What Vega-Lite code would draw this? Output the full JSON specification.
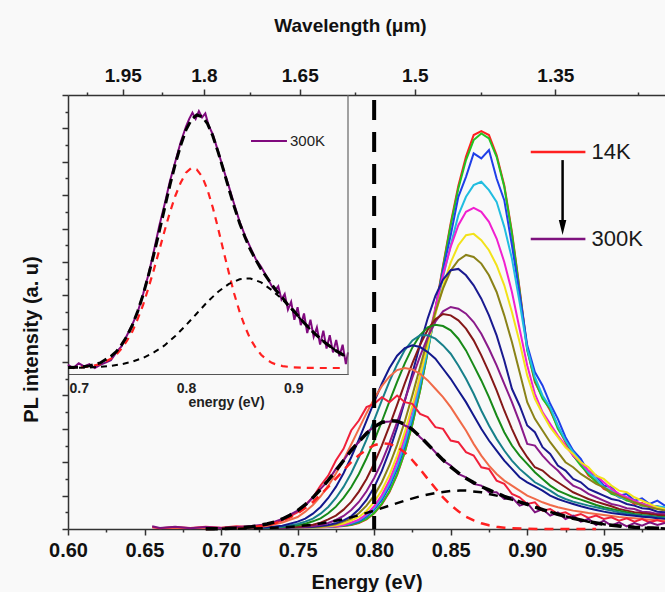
{
"$schema": "https://vega.github.io/schema/vega-lite/v6.json",
"width": 597, "height": 434,
"autosize": {"type": "none"},
"padding": {"left": 68, "top": 95, "right": 0, "bottom": 63},
"background": "#f9f9f9",
"config": {"view": {"stroke": null}, "axis": {"grid": false, "domainColor": "#333", "tickColor": "#333", "labelColor": "#111", "titleColor": "#111", "labelFont": "Liberation Sans", "titleFont": "Liberation Sans"}, "text": {"font": "Liberation Sans"}},
"datasets": {
"curves": [
{"c":"01","e":0.70,"v":0.02},{"c":"01","e":0.72,"v":0.03},{"c":"01","e":0.73,"v":0.03},{"c":"01","e":0.74,"v":0.03},{"c":"01","e":0.75,"v":0.04},{"c":"01","e":0.755,"v":0.04},{"c":"01","e":0.76,"v":0.05},{"c":"01","e":0.765,"v":0.05},{"c":"01","e":0.77,"v":0.06},{"c":"01","e":0.775,"v":0.07},{"c":"01","e":0.78,"v":0.09},{"c":"01","e":0.785,"v":0.12},{"c":"01","e":0.79,"v":0.18},{"c":"01","e":0.795,"v":0.29},{"c":"01","e":0.80,"v":0.47},{"c":"01","e":0.805,"v":0.74},{"c":"01","e":0.81,"v":1.11},{"c":"01","e":0.815,"v":1.62},{"c":"01","e":0.82,"v":2.29},{"c":"01","e":0.825,"v":3.14},{"c":"01","e":0.83,"v":4.15},{"c":"01","e":0.835,"v":5.32},{"c":"01","e":0.84,"v":6.59},{"c":"01","e":0.845,"v":7.89},{"c":"01","e":0.85,"v":9.16},{"c":"01","e":0.855,"v":10.28},{"c":"01","e":0.86,"v":11.16},{"c":"01","e":0.865,"v":11.8},{"c":"01","e":0.87,"v":11.92},{"c":"01","e":0.875,"v":11.8},{"c":"01","e":0.88,"v":11.2},{"c":"01","e":0.885,"v":10.3},{"c":"01","e":0.89,"v":8.9},{"c":"01","e":0.895,"v":7.2},{"c":"01","e":0.90,"v":5.4},{"c":"01","e":0.905,"v":4.4},{"c":"01","e":0.91,"v":3.95},{"c":"01","e":0.915,"v":3.55},{"c":"01","e":0.92,"v":3.05},{"c":"01","e":0.925,"v":2.6},{"c":"01","e":0.93,"v":2.2},{"c":"01","e":0.935,"v":1.95},{"c":"01","e":0.94,"v":1.6},{"c":"01","e":0.945,"v":1.45},{"c":"01","e":0.95,"v":1.2},{"c":"01","e":0.955,"v":1.1},{"c":"01","e":0.96,"v":0.95},{"c":"01","e":0.965,"v":0.9},{"c":"01","e":0.97,"v":0.75},{"c":"01","e":0.975,"v":0.78},{"c":"01","e":0.98,"v":0.66},{"c":"01","e":0.985,"v":0.68},{"c":"01","e":0.99,"v":0.6},
{"c":"02","e":0.70,"v":0.02},{"c":"02","e":0.72,"v":0.03},{"c":"02","e":0.73,"v":0.03},{"c":"02","e":0.74,"v":0.04},{"c":"02","e":0.75,"v":0.04},{"c":"02","e":0.755,"v":0.05},{"c":"02","e":0.76,"v":0.05},{"c":"02","e":0.765,"v":0.06},{"c":"02","e":0.77,"v":0.07},{"c":"02","e":0.775,"v":0.08},{"c":"02","e":0.78,"v":0.10},{"c":"02","e":0.785,"v":0.13},{"c":"02","e":0.79,"v":0.19},{"c":"02","e":0.795,"v":0.30},{"c":"02","e":0.80,"v":0.48},{"c":"02","e":0.805,"v":0.76},{"c":"02","e":0.81,"v":1.13},{"c":"02","e":0.815,"v":1.64},{"c":"02","e":0.82,"v":2.31},{"c":"02","e":0.825,"v":3.15},{"c":"02","e":0.83,"v":4.15},{"c":"02","e":0.835,"v":5.3},{"c":"02","e":0.84,"v":6.55},{"c":"02","e":0.845,"v":7.85},{"c":"02","e":0.85,"v":9.1},{"c":"02","e":0.855,"v":10.2},{"c":"02","e":0.86,"v":11.05},{"c":"02","e":0.865,"v":11.65},{"c":"02","e":0.87,"v":11.85},{"c":"02","e":0.875,"v":11.7},{"c":"02","e":0.88,"v":11.15},{"c":"02","e":0.885,"v":10.25},{"c":"02","e":0.89,"v":8.85},{"c":"02","e":0.895,"v":7.15},{"c":"02","e":0.90,"v":5.35},{"c":"02","e":0.905,"v":4.45},{"c":"02","e":0.91,"v":3.9},{"c":"02","e":0.915,"v":3.6},{"c":"02","e":0.92,"v":3.0},{"c":"02","e":0.925,"v":2.65},{"c":"02","e":0.93,"v":2.2},{"c":"02","e":0.935,"v":1.9},{"c":"02","e":0.94,"v":1.65},{"c":"02","e":0.945,"v":1.4},{"c":"02","e":0.95,"v":1.25},{"c":"02","e":0.955,"v":1.05},{"c":"02","e":0.96,"v":0.98},{"c":"02","e":0.965,"v":0.85},{"c":"02","e":0.97,"v":0.8},{"c":"02","e":0.975,"v":0.7},{"c":"02","e":0.98,"v":0.7},{"c":"02","e":0.985,"v":0.62},{"c":"02","e":0.99,"v":0.63},
{"c":"03","e":0.70,"v":0.03},{"c":"03","e":0.72,"v":0.03},{"c":"03","e":0.73,"v":0.04},{"c":"03","e":0.74,"v":0.04},{"c":"03","e":0.75,"v":0.05},{"c":"03","e":0.755,"v":0.05},{"c":"03","e":0.76,"v":0.06},{"c":"03","e":0.765,"v":0.06},{"c":"03","e":0.77,"v":0.07},{"c":"03","e":0.775,"v":0.09},{"c":"03","e":0.78,"v":0.11},{"c":"03","e":0.785,"v":0.16},{"c":"03","e":0.79,"v":0.23},{"c":"03","e":0.795,"v":0.37},{"c":"03","e":0.80,"v":0.58},{"c":"03","e":0.805,"v":0.87},{"c":"03","e":0.81,"v":1.27},{"c":"03","e":0.815,"v":1.8},{"c":"03","e":0.82,"v":2.48},{"c":"03","e":0.825,"v":3.31},{"c":"03","e":0.83,"v":4.29},{"c":"03","e":0.835,"v":5.39},{"c":"03","e":0.84,"v":6.57},{"c":"03","e":0.845,"v":7.76},{"c":"03","e":0.85,"v":8.8},{"c":"03","e":0.855,"v":9.95},{"c":"03","e":0.86,"v":10.55},{"c":"03","e":0.865,"v":11.25},{"c":"03","e":0.87,"v":11.1},{"c":"03","e":0.875,"v":11.35},{"c":"03","e":0.88,"v":10.5},{"c":"03","e":0.885,"v":9.85},{"c":"03","e":0.89,"v":8.5},{"c":"03","e":0.895,"v":7.05},{"c":"03","e":0.90,"v":5.5},{"c":"03","e":0.905,"v":4.7},{"c":"03","e":0.91,"v":4.3},{"c":"03","e":0.915,"v":3.75},{"c":"03","e":0.92,"v":3.3},{"c":"03","e":0.925,"v":2.75},{"c":"03","e":0.93,"v":2.35},{"c":"03","e":0.935,"v":2.1},{"c":"03","e":0.94,"v":1.7},{"c":"03","e":0.945,"v":1.6},{"c":"03","e":0.95,"v":1.3},{"c":"03","e":0.955,"v":1.25},{"c":"03","e":0.96,"v":1.0},{"c":"03","e":0.965,"v":1.05},{"c":"03","e":0.97,"v":0.85},{"c":"03","e":0.975,"v":0.92},{"c":"03","e":0.98,"v":0.75},{"c":"03","e":0.985,"v":0.85},{"c":"03","e":0.99,"v":0.7},
{"c":"04","e":0.70,"v":0.02},{"c":"04","e":0.72,"v":0.03},{"c":"04","e":0.73,"v":0.04},{"c":"04","e":0.74,"v":0.04},{"c":"04","e":0.75,"v":0.05},{"c":"04","e":0.755,"v":0.05},{"c":"04","e":0.76,"v":0.05},{"c":"04","e":0.765,"v":0.06},{"c":"04","e":0.77,"v":0.07},{"c":"04","e":0.775,"v":0.09},{"c":"04","e":0.78,"v":0.12},{"c":"04","e":0.785,"v":0.18},{"c":"04","e":0.79,"v":0.26},{"c":"04","e":0.795,"v":0.41},{"c":"04","e":0.80,"v":0.63},{"c":"04","e":0.805,"v":0.94},{"c":"04","e":0.81,"v":1.36},{"c":"04","e":0.815,"v":1.9},{"c":"04","e":0.82,"v":2.58},{"c":"04","e":0.825,"v":3.39},{"c":"04","e":0.83,"v":4.34},{"c":"04","e":0.835,"v":5.38},{"c":"04","e":0.84,"v":6.47},{"c":"04","e":0.845,"v":7.55},{"c":"04","e":0.85,"v":8.5},{"c":"04","e":0.855,"v":9.4},{"c":"04","e":0.86,"v":9.95},{"c":"04","e":0.865,"v":10.3},{"c":"04","e":0.87,"v":10.4},{"c":"04","e":0.875,"v":10.15},{"c":"04","e":0.88,"v":9.8},{"c":"04","e":0.885,"v":9.05},{"c":"04","e":0.89,"v":8.1},{"c":"04","e":0.895,"v":6.8},{"c":"04","e":0.90,"v":5.4},{"c":"04","e":0.905,"v":4.55},{"c":"04","e":0.91,"v":4.0},{"c":"04","e":0.915,"v":3.65},{"c":"04","e":0.92,"v":3.1},{"c":"04","e":0.925,"v":2.65},{"c":"04","e":0.93,"v":2.3},{"c":"04","e":0.935,"v":2.0},{"c":"04","e":0.94,"v":1.7},{"c":"04","e":0.945,"v":1.5},{"c":"04","e":0.95,"v":1.25},{"c":"04","e":0.955,"v":1.15},{"c":"04","e":0.96,"v":0.95},{"c":"04","e":0.965,"v":0.9},{"c":"04","e":0.97,"v":0.8},{"c":"04","e":0.975,"v":0.75},{"c":"04","e":0.98,"v":0.7},{"c":"04","e":0.985,"v":0.68},{"c":"04","e":0.99,"v":0.65},
{"c":"05","e":0.70,"v":0.02},{"c":"05","e":0.72,"v":0.03},{"c":"05","e":0.73,"v":0.04},{"c":"05","e":0.74,"v":0.04},{"c":"05","e":0.75,"v":0.05},{"c":"05","e":0.755,"v":0.05},{"c":"05","e":0.76,"v":0.06},{"c":"05","e":0.765,"v":0.06},{"c":"05","e":0.77,"v":0.07},{"c":"05","e":0.775,"v":0.09},{"c":"05","e":0.78,"v":0.12},{"c":"05","e":0.785,"v":0.19},{"c":"05","e":0.79,"v":0.28},{"c":"05","e":0.795,"v":0.44},{"c":"05","e":0.80,"v":0.68},{"c":"05","e":0.805,"v":1.01},{"c":"05","e":0.81,"v":1.46},{"c":"05","e":0.815,"v":2.04},{"c":"05","e":0.82,"v":2.75},{"c":"05","e":0.825,"v":3.6},{"c":"05","e":0.83,"v":4.56},{"c":"05","e":0.835,"v":5.59},{"c":"05","e":0.84,"v":6.63},{"c":"05","e":0.845,"v":7.62},{"c":"05","e":0.85,"v":8.45},{"c":"05","e":0.855,"v":9.1},{"c":"05","e":0.86,"v":9.5},{"c":"05","e":0.865,"v":9.62},{"c":"05","e":0.87,"v":9.5},{"c":"05","e":0.875,"v":9.2},{"c":"05","e":0.88,"v":8.7},{"c":"05","e":0.885,"v":8.0},{"c":"05","e":0.89,"v":7.1},{"c":"05","e":0.895,"v":6.0},{"c":"05","e":0.90,"v":4.9},{"c":"05","e":0.905,"v":4.05},{"c":"05","e":0.91,"v":3.5},{"c":"05","e":0.915,"v":3.15},{"c":"05","e":0.92,"v":2.8},{"c":"05","e":0.925,"v":2.5},{"c":"05","e":0.93,"v":2.2},{"c":"05","e":0.935,"v":2.0},{"c":"05","e":0.94,"v":1.75},{"c":"05","e":0.945,"v":1.6},{"c":"05","e":0.95,"v":1.4},{"c":"05","e":0.955,"v":1.2},{"c":"05","e":0.96,"v":1.05},{"c":"05","e":0.965,"v":0.95},{"c":"05","e":0.97,"v":0.85},{"c":"05","e":0.975,"v":0.75},{"c":"05","e":0.98,"v":0.7},{"c":"05","e":0.985,"v":0.62},{"c":"05","e":0.99,"v":0.6},
{"c":"06","e":0.70,"v":0.02},{"c":"06","e":0.72,"v":0.03},{"c":"06","e":0.73,"v":0.04},{"c":"06","e":0.74,"v":0.04},{"c":"06","e":0.75,"v":0.05},{"c":"06","e":0.755,"v":0.05},{"c":"06","e":0.76,"v":0.05},{"c":"06","e":0.765,"v":0.06},{"c":"06","e":0.77,"v":0.08},{"c":"06","e":0.775,"v":0.11},{"c":"06","e":0.78,"v":0.16},{"c":"06","e":0.785,"v":0.25},{"c":"06","e":0.79,"v":0.36},{"c":"06","e":0.795,"v":0.54},{"c":"06","e":0.80,"v":0.81},{"c":"06","e":0.805,"v":1.16},{"c":"06","e":0.81,"v":1.62},{"c":"06","e":0.815,"v":2.2},{"c":"06","e":0.82,"v":2.9},{"c":"06","e":0.825,"v":3.7},{"c":"06","e":0.83,"v":4.58},{"c":"06","e":0.835,"v":5.51},{"c":"06","e":0.84,"v":6.43},{"c":"06","e":0.845,"v":7.27},{"c":"06","e":0.85,"v":7.98},{"c":"06","e":0.855,"v":8.5},{"c":"06","e":0.86,"v":8.8},{"c":"06","e":0.865,"v":8.84},{"c":"06","e":0.87,"v":8.65},{"c":"06","e":0.875,"v":8.35},{"c":"06","e":0.88,"v":7.9},{"c":"06","e":0.885,"v":7.3},{"c":"06","e":0.89,"v":6.5},{"c":"06","e":0.895,"v":5.6},{"c":"06","e":0.90,"v":4.6},{"c":"06","e":0.905,"v":3.9},{"c":"06","e":0.91,"v":3.45},{"c":"06","e":0.915,"v":3.05},{"c":"06","e":0.92,"v":2.75},{"c":"06","e":0.925,"v":2.45},{"c":"06","e":0.93,"v":2.25},{"c":"06","e":0.935,"v":2.0},{"c":"06","e":0.94,"v":1.85},{"c":"06","e":0.945,"v":1.6},{"c":"06","e":0.95,"v":1.5},{"c":"06","e":0.955,"v":1.3},{"c":"06","e":0.96,"v":1.15},{"c":"06","e":0.965,"v":1.1},{"c":"06","e":0.97,"v":0.95},{"c":"06","e":0.975,"v":0.85},{"c":"06","e":0.98,"v":0.75},{"c":"06","e":0.985,"v":0.65},{"c":"06","e":0.99,"v":0.6},
{"c":"07","e":0.70,"v":0.02},{"c":"07","e":0.72,"v":0.03},{"c":"07","e":0.73,"v":0.04},{"c":"07","e":0.74,"v":0.04},{"c":"07","e":0.75,"v":0.05},{"c":"07","e":0.755,"v":0.06},{"c":"07","e":0.76,"v":0.06},{"c":"07","e":0.765,"v":0.07},{"c":"07","e":0.77,"v":0.1},{"c":"07","e":0.775,"v":0.14},{"c":"07","e":0.78,"v":0.22},{"c":"07","e":0.785,"v":0.31},{"c":"07","e":0.79,"v":0.47},{"c":"07","e":0.795,"v":0.7},{"c":"07","e":0.80,"v":1.0},{"c":"07","e":0.805,"v":1.4},{"c":"07","e":0.81,"v":1.91},{"c":"07","e":0.815,"v":2.52},{"c":"07","e":0.82,"v":3.22},{"c":"07","e":0.825,"v":4.01},{"c":"07","e":0.83,"v":4.85},{"c":"07","e":0.835,"v":5.7},{"c":"07","e":0.84,"v":6.5},{"c":"07","e":0.845,"v":7.2},{"c":"07","e":0.85,"v":7.74},{"c":"07","e":0.855,"v":8.05},{"c":"07","e":0.86,"v":8.21},{"c":"07","e":0.865,"v":8.15},{"c":"07","e":0.87,"v":7.95},{"c":"07","e":0.875,"v":7.6},{"c":"07","e":0.88,"v":7.1},{"c":"07","e":0.885,"v":6.4},{"c":"07","e":0.89,"v":5.6},{"c":"07","e":0.895,"v":4.7},{"c":"07","e":0.90,"v":3.8},{"c":"07","e":0.905,"v":3.3},{"c":"07","e":0.91,"v":2.95},{"c":"07","e":0.915,"v":2.6},{"c":"07","e":0.92,"v":2.3},{"c":"07","e":0.925,"v":2.0},{"c":"07","e":0.93,"v":1.85},{"c":"07","e":0.935,"v":1.65},{"c":"07","e":0.94,"v":1.5},{"c":"07","e":0.945,"v":1.35},{"c":"07","e":0.95,"v":1.25},{"c":"07","e":0.955,"v":1.1},{"c":"07","e":0.96,"v":1.0},{"c":"07","e":0.965,"v":0.9},{"c":"07","e":0.97,"v":0.8},{"c":"07","e":0.975,"v":0.72},{"c":"07","e":0.98,"v":0.65},{"c":"07","e":0.985,"v":0.6},{"c":"07","e":0.99,"v":0.55},
{"c":"08","e":0.70,"v":0.02},{"c":"08","e":0.72,"v":0.03},{"c":"08","e":0.73,"v":0.04},{"c":"08","e":0.74,"v":0.04},{"c":"08","e":0.75,"v":0.05},{"c":"08","e":0.755,"v":0.06},{"c":"08","e":0.76,"v":0.07},{"c":"08","e":0.765,"v":0.09},{"c":"08","e":0.77,"v":0.12},{"c":"08","e":0.775,"v":0.17},{"c":"08","e":0.78,"v":0.26},{"c":"08","e":0.785,"v":0.38},{"c":"08","e":0.79,"v":0.59},{"c":"08","e":0.795,"v":0.87},{"c":"08","e":0.80,"v":1.25},{"c":"08","e":0.805,"v":1.74},{"c":"08","e":0.81,"v":2.34},{"c":"08","e":0.815,"v":3.04},{"c":"08","e":0.82,"v":3.83},{"c":"08","e":0.825,"v":4.67},{"c":"08","e":0.83,"v":5.52},{"c":"08","e":0.835,"v":6.31},{"c":"08","e":0.84,"v":6.98},{"c":"08","e":0.845,"v":7.47},{"c":"08","e":0.85,"v":7.75},{"c":"08","e":0.855,"v":7.79},{"c":"08","e":0.86,"v":7.6},{"c":"08","e":0.865,"v":7.3},{"c":"08","e":0.87,"v":6.9},{"c":"08","e":0.875,"v":6.4},{"c":"08","e":0.88,"v":5.8},{"c":"08","e":0.885,"v":5.05},{"c":"08","e":0.89,"v":4.2},{"c":"08","e":0.895,"v":3.7},{"c":"08","e":0.90,"v":3.1},{"c":"08","e":0.905,"v":2.9},{"c":"08","e":0.91,"v":2.45},{"c":"08","e":0.915,"v":2.25},{"c":"08","e":0.92,"v":1.9},{"c":"08","e":0.925,"v":1.75},{"c":"08","e":0.93,"v":1.5},{"c":"08","e":0.935,"v":1.4},{"c":"08","e":0.94,"v":1.2},{"c":"08","e":0.945,"v":1.1},{"c":"08","e":0.95,"v":1.0},{"c":"08","e":0.955,"v":0.9},{"c":"08","e":0.96,"v":0.85},{"c":"08","e":0.965,"v":0.75},{"c":"08","e":0.97,"v":0.7},{"c":"08","e":0.975,"v":0.62},{"c":"08","e":0.98,"v":0.6},{"c":"08","e":0.985,"v":0.52},{"c":"08","e":0.99,"v":0.5},
{"c":"09","e":0.70,"v":0.02},{"c":"09","e":0.72,"v":0.03},{"c":"09","e":0.73,"v":0.04},{"c":"09","e":0.74,"v":0.04},{"c":"09","e":0.75,"v":0.06},{"c":"09","e":0.755,"v":0.07},{"c":"09","e":0.76,"v":0.09},{"c":"09","e":0.765,"v":0.12},{"c":"09","e":0.77,"v":0.18},{"c":"09","e":0.775,"v":0.27},{"c":"09","e":0.78,"v":0.39},{"c":"09","e":0.785,"v":0.57},{"c":"09","e":0.79,"v":0.81},{"c":"09","e":0.795,"v":1.13},{"c":"09","e":0.80,"v":1.53},{"c":"09","e":0.805,"v":2.01},{"c":"09","e":0.81,"v":2.57},{"c":"09","e":0.815,"v":3.2},{"c":"09","e":0.82,"v":3.86},{"c":"09","e":0.825,"v":4.54},{"c":"09","e":0.83,"v":5.18},{"c":"09","e":0.835,"v":5.75},{"c":"09","e":0.84,"v":6.21},{"c":"09","e":0.845,"v":6.52},{"c":"09","e":0.85,"v":6.65},{"c":"09","e":0.855,"v":6.6},{"c":"09","e":0.86,"v":6.45},{"c":"09","e":0.865,"v":6.2},{"c":"09","e":0.87,"v":5.85},{"c":"09","e":0.875,"v":5.4},{"c":"09","e":0.88,"v":4.9},{"c":"09","e":0.885,"v":4.35},{"c":"09","e":0.89,"v":3.8},{"c":"09","e":0.895,"v":3.2},{"c":"09","e":0.90,"v":2.55},{"c":"09","e":0.905,"v":2.5},{"c":"09","e":0.91,"v":2.2},{"c":"09","e":0.915,"v":1.95},{"c":"09","e":0.92,"v":1.75},{"c":"09","e":0.925,"v":1.5},{"c":"09","e":0.93,"v":1.3},{"c":"09","e":0.935,"v":1.2},{"c":"09","e":0.94,"v":1.05},{"c":"09","e":0.945,"v":0.95},{"c":"09","e":0.95,"v":0.85},{"c":"09","e":0.955,"v":0.75},{"c":"09","e":0.96,"v":0.7},{"c":"09","e":0.965,"v":0.62},{"c":"09","e":0.97,"v":0.6},{"c":"09","e":0.975,"v":0.52},{"c":"09","e":0.98,"v":0.5},{"c":"09","e":0.985,"v":0.45},{"c":"09","e":0.99,"v":0.45},
{"c":"10","e":0.70,"v":0.02},{"c":"10","e":0.72,"v":0.03},{"c":"10","e":0.73,"v":0.04},{"c":"10","e":0.74,"v":0.05},{"c":"10","e":0.75,"v":0.07},{"c":"10","e":0.755,"v":0.09},{"c":"10","e":0.76,"v":0.13},{"c":"10","e":0.765,"v":0.19},{"c":"10","e":0.77,"v":0.29},{"c":"10","e":0.775,"v":0.4},{"c":"10","e":0.78,"v":0.58},{"c":"10","e":0.785,"v":0.81},{"c":"10","e":0.79,"v":1.12},{"c":"10","e":0.795,"v":1.5},{"c":"10","e":0.80,"v":1.96},{"c":"10","e":0.805,"v":2.5},{"c":"10","e":0.81,"v":3.09},{"c":"10","e":0.815,"v":3.72},{"c":"10","e":0.82,"v":4.36},{"c":"10","e":0.825,"v":4.97},{"c":"10","e":0.83,"v":5.52},{"c":"10","e":0.835,"v":5.97},{"c":"10","e":0.84,"v":6.28},{"c":"10","e":0.845,"v":6.44},{"c":"10","e":0.85,"v":6.4},{"c":"10","e":0.855,"v":6.25},{"c":"10","e":0.86,"v":6.0},{"c":"10","e":0.865,"v":5.65},{"c":"10","e":0.87,"v":5.2},{"c":"10","e":0.875,"v":4.7},{"c":"10","e":0.88,"v":4.15},{"c":"10","e":0.885,"v":3.55},{"c":"10","e":0.89,"v":3.0},{"c":"10","e":0.895,"v":2.5},{"c":"10","e":0.90,"v":2.15},{"c":"10","e":0.905,"v":1.85},{"c":"10","e":0.91,"v":1.75},{"c":"10","e":0.915,"v":1.55},{"c":"10","e":0.92,"v":1.4},{"c":"10","e":0.925,"v":1.25},{"c":"10","e":0.93,"v":1.1},{"c":"10","e":0.935,"v":1.0},{"c":"10","e":0.94,"v":0.9},{"c":"10","e":0.945,"v":0.82},{"c":"10","e":0.95,"v":0.75},{"c":"10","e":0.955,"v":0.68},{"c":"10","e":0.96,"v":0.6},{"c":"10","e":0.965,"v":0.55},{"c":"10","e":0.97,"v":0.5},{"c":"10","e":0.975,"v":0.48},{"c":"10","e":0.98,"v":0.45},{"c":"10","e":0.985,"v":0.42},{"c":"10","e":0.99,"v":0.4},
{"c":"11","e":0.70,"v":0.02},{"c":"11","e":0.72,"v":0.03},{"c":"11","e":0.73,"v":0.04},{"c":"11","e":0.74,"v":0.06},{"c":"11","e":0.75,"v":0.11},{"c":"11","e":0.755,"v":0.16},{"c":"11","e":0.76,"v":0.23},{"c":"11","e":0.765,"v":0.32},{"c":"11","e":0.77,"v":0.47},{"c":"11","e":0.775,"v":0.67},{"c":"11","e":0.78,"v":0.93},{"c":"11","e":0.785,"v":1.25},{"c":"11","e":0.79,"v":1.65},{"c":"11","e":0.795,"v":2.12},{"c":"11","e":0.80,"v":2.64},{"c":"11","e":0.805,"v":3.22},{"c":"11","e":0.81,"v":3.82},{"c":"11","e":0.815,"v":4.41},{"c":"11","e":0.82,"v":4.96},{"c":"11","e":0.825,"v":5.44},{"c":"11","e":0.83,"v":5.81},{"c":"11","e":0.835,"v":6.04},{"c":"11","e":0.84,"v":6.12},{"c":"11","e":0.845,"v":6.08},{"c":"11","e":0.85,"v":5.95},{"c":"11","e":0.855,"v":5.7},{"c":"11","e":0.86,"v":5.35},{"c":"11","e":0.865,"v":4.9},{"c":"11","e":0.87,"v":4.45},{"c":"11","e":0.875,"v":3.95},{"c":"11","e":0.88,"v":3.4},{"c":"11","e":0.885,"v":2.9},{"c":"11","e":0.89,"v":2.5},{"c":"11","e":0.895,"v":2.2},{"c":"11","e":0.90,"v":1.95},{"c":"11","e":0.905,"v":1.7},{"c":"11","e":0.91,"v":1.5},{"c":"11","e":0.915,"v":1.3},{"c":"11","e":0.92,"v":1.15},{"c":"11","e":0.925,"v":1.05},{"c":"11","e":0.93,"v":0.95},{"c":"11","e":0.935,"v":0.88},{"c":"11","e":0.94,"v":0.8},{"c":"11","e":0.945,"v":0.72},{"c":"11","e":0.95,"v":0.65},{"c":"11","e":0.955,"v":0.6},{"c":"11","e":0.96,"v":0.55},{"c":"11","e":0.965,"v":0.5},{"c":"11","e":0.97,"v":0.45},{"c":"11","e":0.975,"v":0.42},{"c":"11","e":0.98,"v":0.4},{"c":"11","e":0.985,"v":0.37},{"c":"11","e":0.99,"v":0.35},
{"c":"12","e":0.70,"v":0.02},{"c":"12","e":0.72,"v":0.03},{"c":"12","e":0.73,"v":0.04},{"c":"12","e":0.74,"v":0.07},{"c":"12","e":0.75,"v":0.15},{"c":"12","e":0.755,"v":0.22},{"c":"12","e":0.76,"v":0.31},{"c":"12","e":0.765,"v":0.46},{"c":"12","e":0.77,"v":0.66},{"c":"12","e":0.775,"v":0.93},{"c":"12","e":0.78,"v":1.26},{"c":"12","e":0.785,"v":1.67},{"c":"12","e":0.79,"v":2.15},{"c":"12","e":0.795,"v":2.68},{"c":"12","e":0.80,"v":3.26},{"c":"12","e":0.805,"v":3.85},{"c":"12","e":0.81,"v":4.42},{"c":"12","e":0.815,"v":4.93},{"c":"12","e":0.82,"v":5.36},{"c":"12","e":0.825,"v":5.65},{"c":"12","e":0.83,"v":5.8},{"c":"12","e":0.835,"v":5.8},{"c":"12","e":0.84,"v":5.7},{"c":"12","e":0.845,"v":5.5},{"c":"12","e":0.85,"v":5.25},{"c":"12","e":0.855,"v":4.9},{"c":"12","e":0.86,"v":4.5},{"c":"12","e":0.865,"v":4.05},{"c":"12","e":0.87,"v":3.55},{"c":"12","e":0.875,"v":3.1},{"c":"12","e":0.88,"v":2.7},{"c":"12","e":0.885,"v":2.35},{"c":"12","e":0.89,"v":2.05},{"c":"12","e":0.895,"v":1.8},{"c":"12","e":0.90,"v":1.6},{"c":"12","e":0.905,"v":1.4},{"c":"12","e":0.91,"v":1.28},{"c":"12","e":0.915,"v":1.15},{"c":"12","e":0.92,"v":1.0},{"c":"12","e":0.925,"v":0.9},{"c":"12","e":0.93,"v":0.82},{"c":"12","e":0.935,"v":0.76},{"c":"12","e":0.94,"v":0.7},{"c":"12","e":0.945,"v":0.65},{"c":"12","e":0.95,"v":0.6},{"c":"12","e":0.955,"v":0.55},{"c":"12","e":0.96,"v":0.5},{"c":"12","e":0.965,"v":0.46},{"c":"12","e":0.97,"v":0.42},{"c":"12","e":0.975,"v":0.4},{"c":"12","e":0.98,"v":0.38},{"c":"12","e":0.985,"v":0.35},{"c":"12","e":0.99,"v":0.33},
{"c":"13","e":0.70,"v":0.02},{"c":"13","e":0.72,"v":0.03},{"c":"13","e":0.73,"v":0.05},{"c":"13","e":0.74,"v":0.1},{"c":"13","e":0.75,"v":0.22},{"c":"13","e":0.755,"v":0.31},{"c":"13","e":0.76,"v":0.46},{"c":"13","e":0.765,"v":0.66},{"c":"13","e":0.77,"v":0.93},{"c":"13","e":0.775,"v":1.26},{"c":"13","e":0.78,"v":1.67},{"c":"13","e":0.785,"v":2.15},{"c":"13","e":0.79,"v":2.68},{"c":"13","e":0.795,"v":3.24},{"c":"13","e":0.80,"v":3.81},{"c":"13","e":0.805,"v":4.35},{"c":"13","e":0.81,"v":4.82},{"c":"13","e":0.815,"v":5.19},{"c":"13","e":0.82,"v":5.42},{"c":"13","e":0.825,"v":5.5},{"c":"13","e":0.83,"v":5.45},{"c":"13","e":0.835,"v":5.3},{"c":"13","e":0.84,"v":5.1},{"c":"13","e":0.845,"v":4.8},{"c":"13","e":0.85,"v":4.5},{"c":"13","e":0.855,"v":4.15},{"c":"13","e":0.86,"v":3.8},{"c":"13","e":0.865,"v":3.4},{"c":"13","e":0.87,"v":3.0},{"c":"13","e":0.875,"v":2.65},{"c":"13","e":0.88,"v":2.35},{"c":"13","e":0.885,"v":2.05},{"c":"13","e":0.89,"v":1.8},{"c":"13","e":0.895,"v":1.55},{"c":"13","e":0.90,"v":1.4},{"c":"13","e":0.905,"v":1.28},{"c":"13","e":0.91,"v":1.15},{"c":"13","e":0.915,"v":1.0},{"c":"13","e":0.92,"v":0.9},{"c":"13","e":0.925,"v":0.82},{"c":"13","e":0.93,"v":0.75},{"c":"13","e":0.935,"v":0.68},{"c":"13","e":0.94,"v":0.62},{"c":"13","e":0.945,"v":0.57},{"c":"13","e":0.95,"v":0.52},{"c":"13","e":0.955,"v":0.48},{"c":"13","e":0.96,"v":0.45},{"c":"13","e":0.965,"v":0.42},{"c":"13","e":0.97,"v":0.4},{"c":"13","e":0.975,"v":0.37},{"c":"13","e":0.98,"v":0.35},{"c":"13","e":0.985,"v":0.32},{"c":"13","e":0.99,"v":0.3},
{"c":"14","e":0.66,"v":0.03},{"c":"14","e":0.70,"v":0.03},{"c":"14","e":0.72,"v":0.04},{"c":"14","e":0.73,"v":0.09},{"c":"14","e":0.74,"v":0.19},{"c":"14","e":0.75,"v":0.36},{"c":"14","e":0.755,"v":0.52},{"c":"14","e":0.76,"v":0.72},{"c":"14","e":0.765,"v":0.98},{"c":"14","e":0.77,"v":1.29},{"c":"14","e":0.775,"v":1.66},{"c":"14","e":0.78,"v":2.07},{"c":"14","e":0.785,"v":2.53},{"c":"14","e":0.79,"v":3.0},{"c":"14","e":0.795,"v":3.47},{"c":"14","e":0.80,"v":3.9},{"c":"14","e":0.805,"v":4.28},{"c":"14","e":0.81,"v":4.57},{"c":"14","e":0.815,"v":4.76},{"c":"14","e":0.82,"v":4.82},{"c":"14","e":0.825,"v":4.78},{"c":"14","e":0.83,"v":4.65},{"c":"14","e":0.835,"v":4.45},{"c":"14","e":0.84,"v":4.2},{"c":"14","e":0.845,"v":3.95},{"c":"14","e":0.85,"v":3.65},{"c":"14","e":0.855,"v":3.3},{"c":"14","e":0.86,"v":2.95},{"c":"14","e":0.865,"v":2.55},{"c":"14","e":0.87,"v":2.2},{"c":"14","e":0.875,"v":1.9},{"c":"14","e":0.88,"v":1.65},{"c":"14","e":0.885,"v":1.45},{"c":"14","e":0.89,"v":1.3},{"c":"14","e":0.895,"v":1.15},{"c":"14","e":0.90,"v":1.0},{"c":"14","e":0.905,"v":0.9},{"c":"14","e":0.91,"v":0.8},{"c":"14","e":0.915,"v":0.72},{"c":"14","e":0.92,"v":0.65},{"c":"14","e":0.925,"v":0.6},{"c":"14","e":0.93,"v":0.55},{"c":"14","e":0.935,"v":0.52},{"c":"14","e":0.94,"v":0.48},{"c":"14","e":0.945,"v":0.45},{"c":"14","e":0.95,"v":0.42},{"c":"14","e":0.955,"v":0.39},{"c":"14","e":0.96,"v":0.36},{"c":"14","e":0.965,"v":0.34},{"c":"14","e":0.97,"v":0.32},{"c":"14","e":0.975,"v":0.3},{"c":"14","e":0.98,"v":0.28},{"c":"14","e":0.985,"v":0.26},{"c":"14","e":0.99,"v":0.25},
{"c":"15","e":0.655,"v":0.05},{"c":"15","e":0.66,"v":0.02},{"c":"15","e":0.67,"v":0.06},{"c":"15","e":0.68,"v":0.03},{"c":"15","e":0.69,"v":0.07},{"c":"15","e":0.70,"v":0.04},{"c":"15","e":0.71,"v":0.08},{"c":"15","e":0.72,"v":0.06},{"c":"15","e":0.73,"v":0.12},{"c":"15","e":0.74,"v":0.25},{"c":"15","e":0.75,"v":0.5},{"c":"15","e":0.755,"v":0.72},{"c":"15","e":0.76,"v":0.95},{"c":"15","e":0.765,"v":1.3},{"c":"15","e":0.77,"v":1.6},{"c":"15","e":0.775,"v":2.05},{"c":"15","e":0.78,"v":2.4},{"c":"15","e":0.785,"v":2.95},{"c":"15","e":0.79,"v":3.25},{"c":"15","e":0.795,"v":3.65},{"c":"15","e":0.80,"v":3.75},{"c":"15","e":0.805,"v":3.95},{"c":"15","e":0.81,"v":3.8},{"c":"15","e":0.815,"v":4.0},{"c":"15","e":0.82,"v":3.8},{"c":"15","e":0.825,"v":3.75},{"c":"15","e":0.83,"v":3.45},{"c":"15","e":0.835,"v":3.35},{"c":"15","e":0.84,"v":3.05},{"c":"15","e":0.845,"v":3.0},{"c":"15","e":0.85,"v":2.65},{"c":"15","e":0.855,"v":2.6},{"c":"15","e":0.86,"v":2.3},{"c":"15","e":0.865,"v":2.2},{"c":"15","e":0.87,"v":1.85},{"c":"15","e":0.875,"v":1.8},{"c":"15","e":0.88,"v":1.45},{"c":"15","e":0.885,"v":1.35},{"c":"15","e":0.89,"v":1.05},{"c":"15","e":0.895,"v":0.95},{"c":"15","e":0.90,"v":0.75},{"c":"15","e":0.905,"v":0.8},{"c":"15","e":0.91,"v":0.55},{"c":"15","e":0.915,"v":0.6},{"c":"15","e":0.92,"v":0.45},{"c":"15","e":0.925,"v":0.5},{"c":"15","e":0.93,"v":0.38},{"c":"15","e":0.935,"v":0.45},{"c":"15","e":0.94,"v":0.33},{"c":"15","e":0.945,"v":0.4},{"c":"15","e":0.95,"v":0.3},{"c":"15","e":0.955,"v":0.35},{"c":"15","e":0.96,"v":0.25},{"c":"15","e":0.965,"v":0.32},{"c":"15","e":0.97,"v":0.22},{"c":"15","e":0.975,"v":0.3},{"c":"15","e":0.98,"v":0.2},{"c":"15","e":0.985,"v":0.27},{"c":"15","e":0.99,"v":0.2},
{"c":"16","e":0.655,"v":0.08},{"c":"16","e":0.66,"v":0.03},{"c":"16","e":0.67,"v":0.07},{"c":"16","e":0.68,"v":0.02},{"c":"16","e":0.69,"v":0.06},{"c":"16","e":0.70,"v":0.03},{"c":"16","e":0.71,"v":0.05},{"c":"16","e":0.72,"v":0.09},{"c":"16","e":0.73,"v":0.14},{"c":"16","e":0.74,"v":0.3},{"c":"16","e":0.75,"v":0.55},{"c":"16","e":0.755,"v":0.7},{"c":"16","e":0.76,"v":0.95},{"c":"16","e":0.765,"v":1.2},{"c":"16","e":0.77,"v":1.45},{"c":"16","e":0.775,"v":1.8},{"c":"16","e":0.78,"v":2.05},{"c":"16","e":0.785,"v":2.4},{"c":"16","e":0.79,"v":2.6},{"c":"16","e":0.795,"v":2.9},{"c":"16","e":0.80,"v":3.05},{"c":"16","e":0.805,"v":3.2},{"c":"16","e":0.81,"v":3.22},{"c":"16","e":0.815,"v":3.25},{"c":"16","e":0.82,"v":3.1},{"c":"16","e":0.825,"v":3.0},{"c":"16","e":0.83,"v":2.75},{"c":"16","e":0.835,"v":2.55},{"c":"16","e":0.84,"v":2.3},{"c":"16","e":0.845,"v":2.05},{"c":"16","e":0.85,"v":1.9},{"c":"16","e":0.855,"v":1.65},{"c":"16","e":0.86,"v":1.55},{"c":"16","e":0.865,"v":1.35},{"c":"16","e":0.87,"v":1.3},{"c":"16","e":0.875,"v":1.1},{"c":"16","e":0.88,"v":1.1},{"c":"16","e":0.885,"v":0.9},{"c":"16","e":0.89,"v":0.95},{"c":"16","e":0.895,"v":0.7},{"c":"16","e":0.90,"v":0.78},{"c":"16","e":0.905,"v":0.5},{"c":"16","e":0.91,"v":0.6},{"c":"16","e":0.915,"v":0.4},{"c":"16","e":0.92,"v":0.5},{"c":"16","e":0.925,"v":0.3},{"c":"16","e":0.93,"v":0.4},{"c":"16","e":0.935,"v":0.22},{"c":"16","e":0.94,"v":0.3},{"c":"16","e":0.945,"v":0.12},{"c":"16","e":0.95,"v":0.25},{"c":"16","e":0.955,"v":0.1},{"c":"16","e":0.96,"v":0.2},{"c":"16","e":0.965,"v":0.08},{"c":"16","e":0.97,"v":0.18},{"c":"16","e":0.975,"v":0.1},{"c":"16","e":0.98,"v":0.2},{"c":"16","e":0.985,"v":0.12},{"c":"16","e":0.99,"v":0.18}
],
"fit": [
{"e":0.69,"v":0.006},{"e":0.70,"v":0.01},{"e":0.71,"v":0.027},{"e":0.72,"v":0.065},{"e":0.73,"v":0.15},{"e":0.735,"v":0.21},{"e":0.74,"v":0.3},{"e":0.745,"v":0.41},{"e":0.75,"v":0.55},{"e":0.755,"v":0.73},{"e":0.76,"v":0.94},{"e":0.765,"v":1.19},{"e":0.77,"v":1.46},{"e":0.775,"v":1.75},{"e":0.78,"v":2.05},{"e":0.785,"v":2.35},{"e":0.79,"v":2.62},{"e":0.795,"v":2.86},{"e":0.80,"v":3.06},{"e":0.805,"v":3.19},{"e":0.81,"v":3.25},{"e":0.815,"v":3.23},{"e":0.82,"v":3.14},{"e":0.825,"v":2.98},{"e":0.83,"v":2.77},{"e":0.835,"v":2.54},{"e":0.84,"v":2.3},{"e":0.845,"v":2.07},{"e":0.85,"v":1.86},{"e":0.855,"v":1.68},{"e":0.86,"v":1.52},{"e":0.865,"v":1.39},{"e":0.87,"v":1.27},{"e":0.875,"v":1.17},{"e":0.88,"v":1.07},{"e":0.885,"v":0.98},{"e":0.89,"v":0.9},{"e":0.895,"v":0.81},{"e":0.90,"v":0.74},{"e":0.91,"v":0.58},{"e":0.92,"v":0.44},{"e":0.93,"v":0.32},{"e":0.94,"v":0.22},{"e":0.95,"v":0.14},{"e":0.96,"v":0.09},{"e":0.97,"v":0.05},{"e":0.98,"v":0.03},{"e":0.99,"v":0.016}
],
"g1": [
{"e":0.69,"v":0.002},{"e":0.70,"v":0.005},{"e":0.71,"v":0.02},{"e":0.72,"v":0.05},{"e":0.73,"v":0.12},{"e":0.735,"v":0.17},{"e":0.74,"v":0.25},{"e":0.745,"v":0.35},{"e":0.75,"v":0.47},{"e":0.755,"v":0.63},{"e":0.76,"v":0.81},{"e":0.765,"v":1.03},{"e":0.77,"v":1.26},{"e":0.775,"v":1.51},{"e":0.78,"v":1.76},{"e":0.785,"v":2.0},{"e":0.79,"v":2.21},{"e":0.795,"v":2.38},{"e":0.80,"v":2.51},{"e":0.805,"v":2.57},{"e":0.81,"v":2.55},{"e":0.815,"v":2.46},{"e":0.82,"v":2.29},{"e":0.825,"v":2.06},{"e":0.83,"v":1.79},{"e":0.835,"v":1.5},{"e":0.84,"v":1.22},{"e":0.845,"v":0.95},{"e":0.85,"v":0.72},{"e":0.855,"v":0.53},{"e":0.86,"v":0.37},{"e":0.865,"v":0.26},{"e":0.87,"v":0.17},{"e":0.875,"v":0.11},{"e":0.88,"v":0.066},{"e":0.885,"v":0.04},{"e":0.89,"v":0.025},{"e":0.90,"v":0.007},{"e":0.91,"v":0.002},{"e":0.925,"v":0.0},{"e":0.945,"v":0.0}
],
"g2": [
{"e":0.69,"v":0.003},{"e":0.70,"v":0.004},{"e":0.71,"v":0.007},{"e":0.72,"v":0.015},{"e":0.73,"v":0.027},{"e":0.74,"v":0.048},{"e":0.75,"v":0.081},{"e":0.76,"v":0.13},{"e":0.77,"v":0.2},{"e":0.78,"v":0.29},{"e":0.79,"v":0.41},{"e":0.80,"v":0.55},{"e":0.81,"v":0.7},{"e":0.82,"v":0.85},{"e":0.83,"v":0.98},{"e":0.84,"v":1.08},{"e":0.85,"v":1.14},{"e":0.856,"v":1.15},{"e":0.86,"v":1.15},{"e":0.87,"v":1.1},{"e":0.88,"v":1.0},{"e":0.89,"v":0.88},{"e":0.90,"v":0.73},{"e":0.91,"v":0.58},{"e":0.92,"v":0.44},{"e":0.93,"v":0.32},{"e":0.94,"v":0.22},{"e":0.95,"v":0.14},{"e":0.96,"v":0.09},{"e":0.97,"v":0.05},{"e":0.98,"v":0.03},{"e":0.99,"v":0.016}
],
"inset300": [
{"e":0.69,"v":0.04},{"e":0.695,"v":0.0},{"e":0.70,"v":0.06},{"e":0.705,"v":0.02},{"e":0.71,"v":0.05},{"e":0.715,"v":0.0},{"e":0.72,"v":0.04},{"e":0.725,"v":0.07},{"e":0.73,"v":0.1},{"e":0.735,"v":0.2},{"e":0.74,"v":0.28},{"e":0.745,"v":0.42},{"e":0.75,"v":0.56},{"e":0.755,"v":0.72},{"e":0.76,"v":0.95},{"e":0.765,"v":1.2},{"e":0.77,"v":1.5},{"e":0.775,"v":1.82},{"e":0.78,"v":2.1},{"e":0.785,"v":2.4},{"e":0.79,"v":2.65},{"e":0.795,"v":2.9},{"e":0.80,"v":3.1},{"e":0.803,"v":3.2},{"e":0.806,"v":3.28},{"e":0.809,"v":3.2},{"e":0.812,"v":3.3},{"e":0.815,"v":3.22},{"e":0.818,"v":3.27},{"e":0.821,"v":3.12},{"e":0.825,"v":3.0},{"e":0.83,"v":2.78},{"e":0.835,"v":2.55},{"e":0.84,"v":2.33},{"e":0.845,"v":2.1},{"e":0.85,"v":1.88},{"e":0.855,"v":1.7},{"e":0.86,"v":1.55},{"e":0.865,"v":1.4},{"e":0.87,"v":1.3},{"e":0.875,"v":1.18},{"e":0.88,"v":1.05},{"e":0.883,"v":1.0},{"e":0.886,"v":1.05},{"e":0.889,"v":0.88},{"e":0.892,"v":0.95},{"e":0.895,"v":0.75},{"e":0.898,"v":0.85},{"e":0.901,"v":0.62},{"e":0.904,"v":0.78},{"e":0.907,"v":0.55},{"e":0.91,"v":0.7},{"e":0.913,"v":0.45},{"e":0.916,"v":0.62},{"e":0.919,"v":0.4},{"e":0.922,"v":0.52},{"e":0.925,"v":0.3},{"e":0.928,"v":0.48},{"e":0.931,"v":0.25},{"e":0.934,"v":0.42},{"e":0.937,"v":0.2},{"e":0.94,"v":0.36},{"e":0.943,"v":0.15},{"e":0.946,"v":0.3},{"e":0.949,"v":0.05},{"e":0.951,"v":0.2}
]
},
"layer": [
{
"layer": [
{
"data": {"name": "curves"},
"mark": {"type": "line", "strokeWidth": 2},
"encoding": {
"x": {"field": "e", "type": "quantitative", "scale": {"domain": [0.6, 0.99], "nice": false, "zero": false},
 "axis": {"orient": "bottom", "values": [0.6,0.625,0.65,0.675,0.7,0.725,0.75,0.775,0.8,0.825,0.85,0.875,0.9,0.925,0.95,0.975],
  "labelExpr": "round(datum.value*1000) % 50 == 0 ? format(datum.value, '.2f') : ''",
  "tickSize": {"condition": {"test": "round(datum.value*1000) % 50 != 0", "value": 3}, "value": 6},
  "labelFontSize": 20, "labelFontWeight": "bold", "labelPadding": 5, "labelFlush": false, "labelOverlap": false,
  "title": "Energy (eV)", "titleFontSize": 20, "titleFontWeight": "bold", "titleY": 53, "titleBaseline": "middle",
  "domainWidth": 1.5, "tickWidth": 1.5}},
"y": {"field": "v", "type": "quantitative", "scale": {"domain": [0, 13], "nice": false, "zero": false},
 "axis": {"orient": "left", "values": [0,0.5,1,1.5,2,2.5,3,3.5,4,4.5,5,5.5,6,6.5,7,7.5,8,8.5,9,9.5,10,10.5,11,11.5,12,12.5,13],
  "labels": false, "tickSize": {"condition": {"test": "datum.value % 1 != 0", "value": 3}, "value": 6},
  "title": "PL intensity (a. u)", "titleFontSize": 20, "titleFontWeight": "bold", "titleX": -37, "titleY": 244,
  "titleAngle": -90, "titleBaseline": "middle", "titleAlign": "center", "domainWidth": 1.5, "tickWidth": 1.5}},
"color": {"field": "c", "type": "nominal", "legend": null,
 "scale": {"domain": ["01","02","03","04","05","06","07","08","09","10","11","12","13","14","15","16"],
  "range": ["#ff2020","#22c322","#1f3fe8","#21bde0","#f020d0","#f2e21a","#8a8218","#1a1a90","#8a1a8a","#851818","#188a18","#18808a","#12188c","#f06a48","#f0203a","#7e127e"]}}
}
},
{
"data": {"name": "g1"},
"mark": {"type": "line", "strokeWidth": 2.5, "strokeDash": [9, 7], "color": "#ff2020"},
"encoding": {
"x": {"field": "e", "type": "quantitative", "scale": {"domain": [0.6, 0.99], "nice": false, "zero": false}, "axis": null},
"y": {"field": "v", "type": "quantitative", "scale": {"domain": [0, 13], "nice": false, "zero": false}, "axis": null}
}
},
{
"data": {"name": "g2"},
"mark": {"type": "line", "strokeWidth": 2.5, "strokeDash": [9, 7], "color": "#000000"},
"encoding": {
"x": {"field": "e", "type": "quantitative", "scale": {"domain": [0.6, 0.99], "nice": false, "zero": false}, "axis": null},
"y": {"field": "v", "type": "quantitative", "scale": {"domain": [0, 13], "nice": false, "zero": false}, "axis": null}
}
},
{
"data": {"name": "fit"},
"mark": {"type": "line", "strokeWidth": 3.5, "strokeDash": [12, 7], "color": "#000000"},
"encoding": {
"x": {"field": "e", "type": "quantitative", "scale": {"domain": [0.6, 0.99], "nice": false, "zero": false}, "axis": null},
"y": {"field": "v", "type": "quantitative", "scale": {"domain": [0, 13], "nice": false, "zero": false}, "axis": null}
}
},
{
"data": {"values": [{"e": 0.8, "v": 12.85, "v2": 0}]},
"mark": {"type": "rule", "strokeDash": [20, 12], "strokeWidth": 4, "color": "#000000"},
"encoding": {
"x": {"field": "e", "type": "quantitative", "scale": {"domain": [0.6, 0.99], "nice": false, "zero": false},
 "axis": {"orient": "top", "values": [0.61225,0.63579,0.66123,0.68878,0.71872,0.75139,0.78717,0.82653,0.87004,0.91837,0.97239],
  "labelExpr": "datum.value > 0.63 && datum.value < 0.64 ? '1.95' : datum.value > 0.68 && datum.value < 0.70 ? '1.8' : datum.value > 0.74 && datum.value < 0.76 ? '1.65' : datum.value > 0.82 && datum.value < 0.83 ? '1.5' : datum.value > 0.91 && datum.value < 0.93 ? '1.35' : ''",
  "tickSize": {"condition": {"test": "datum.value < 0.62 || (datum.value > 0.65 && datum.value < 0.67) || (datum.value > 0.70 && datum.value < 0.73) || (datum.value > 0.77 && datum.value < 0.80) || (datum.value > 0.85 && datum.value < 0.89) || datum.value > 0.95", "value": 3}, "value": 6},
  "labelFontSize": 19, "labelFontWeight": "bold", "labelPadding": 4, "labelFlush": false, "labelOverlap": false,
  "title": "Wavelength (μm)", "titleFontSize": 19, "titleFontWeight": "bold", "titleX": 282, "titleY": -70, "titleBaseline": "middle",
  "domainWidth": 1.5, "tickWidth": 1.5}},
"y": {"field": "v", "type": "quantitative", "scale": {"domain": [0, 13], "nice": false, "zero": false}, "axis": null},
"y2": {"field": "v2"}
}
},
{
"data": {"values": [{"e": 0.9023, "e2": 0.938, "v": 11.29, "col": "#ff2020"}, {"e": 0.9023, "e2": 0.938, "v": 8.69, "col": "#7e127e"}]},
"mark": {"type": "rule", "strokeWidth": 2.5},
"encoding": {
"x": {"field": "e", "type": "quantitative", "scale": {"domain": [0.6, 0.99], "nice": false, "zero": false}, "axis": null},
"x2": {"field": "e2"},
"y": {"field": "v", "type": "quantitative", "scale": {"domain": [0, 13], "nice": false, "zero": false}, "axis": null},
"color": {"field": "col", "type": "nominal", "scale": null}
}
},
{
"data": {"values": [{"e": 0.942, "v": 11.29, "t": "14K"}, {"e": 0.942, "v": 8.69, "t": "300K"}]},
"mark": {"type": "text", "align": "left", "baseline": "middle", "fontSize": 22, "color": "#1a1a1a"},
"encoding": {
"x": {"field": "e", "type": "quantitative", "scale": {"domain": [0.6, 0.99], "nice": false, "zero": false}, "axis": null},
"y": {"field": "v", "type": "quantitative", "scale": {"domain": [0, 13], "nice": false, "zero": false}, "axis": null},
"text": {"field": "t"}
}
},
{
"data": {"values": [{"e": 0.9231, "v": 11.05, "v2": 9.2}]},
"mark": {"type": "rule", "strokeWidth": 2.5, "color": "#000000"},
"encoding": {
"x": {"field": "e", "type": "quantitative", "scale": {"domain": [0.6, 0.99], "nice": false, "zero": false}, "axis": null},
"y": {"field": "v", "type": "quantitative", "scale": {"domain": [0, 13], "nice": false, "zero": false}, "axis": null},
"y2": {"field": "v2"}
}
},
{
"data": {"values": [{"e": 0.9231, "v": 9.03}]},
"mark": {"type": "point", "shape": "M-0.5,-1L0.5,-1L0,1Z", "size": 225, "filled": true, "color": "#000000", "opacity": 1},
"encoding": {
"x": {"field": "e", "type": "quantitative", "scale": {"domain": [0.6, 0.99], "nice": false, "zero": false}, "axis": null},
"y": {"field": "v", "type": "quantitative", "scale": {"domain": [0, 13], "nice": false, "zero": false}, "axis": null}
}
}
],
"resolve": {"axis": {"x": "independent", "y": "independent"}}
},
{
"layer": [
{
"data": {"name": "inset300"},
"mark": {"type": "line", "strokeWidth": 2, "color": "#800a7e"},
"encoding": {
"x": {"field": "e", "type": "quantitative", "scale": {"domain": [0.69, 0.951], "range": [0, 280], "nice": false, "zero": false},
 "axis": {"orient": "bottom", "offset": -155, "values": [0.7, 0.8, 0.9], "format": ".1f", "tickSize": 0,
  "labelFontSize": 14, "labelFontWeight": "bold", "labelPadding": 7, "labelFlush": false, "labelColor": "#222",
  "domainColor": "#555", "domainWidth": 1.2,
  "title": "energy (eV)", "titleFontSize": 14, "titleFontWeight": "bold", "titleX": 158, "titleY": 28, "titleBaseline": "middle", "titleColor": "#222"}},
"y": {"field": "v", "type": "quantitative", "scale": {"domain": [-0.09, 3.507], "range": [280, 0], "nice": false, "zero": false}, "axis": null}
}
},
{
"data": {"name": "g1"},
"transform": [{"filter": "datum.e >= 0.69 && datum.e <= 0.951"}],
"mark": {"type": "line", "strokeWidth": 2.2, "strokeDash": [7, 6], "color": "#ff2020"},
"encoding": {
"x": {"field": "e", "type": "quantitative", "scale": {"domain": [0.69, 0.951], "range": [0, 280], "nice": false, "zero": false}, "axis": null},
"y": {"field": "v", "type": "quantitative", "scale": {"domain": [-0.09, 3.507], "range": [280, 0], "nice": false, "zero": false}, "axis": null}
}
},
{
"data": {"name": "g2"},
"transform": [{"filter": "datum.e >= 0.69 && datum.e <= 0.951"}],
"mark": {"type": "line", "strokeWidth": 2, "strokeDash": [6, 5], "color": "#000000"},
"encoding": {
"x": {"field": "e", "type": "quantitative", "scale": {"domain": [0.69, 0.951], "range": [0, 280], "nice": false, "zero": false}, "axis": null},
"y": {"field": "v", "type": "quantitative", "scale": {"domain": [-0.09, 3.507], "range": [280, 0], "nice": false, "zero": false}, "axis": null}
}
},
{
"data": {"name": "fit"},
"transform": [{"filter": "datum.e >= 0.69 && datum.e <= 0.951"}],
"mark": {"type": "line", "strokeWidth": 3, "strokeDash": [10, 5], "color": "#000000"},
"encoding": {
"x": {"field": "e", "type": "quantitative", "scale": {"domain": [0.69, 0.951], "range": [0, 280], "nice": false, "zero": false}, "axis": null},
"y": {"field": "v", "type": "quantitative", "scale": {"domain": [-0.09, 3.507], "range": [280, 0], "nice": false, "zero": false}, "axis": null}
}
},
{
"data": {"values": [{"e": 0.951, "v": -0.09, "v2": 3.507}]},
"mark": {"type": "rule", "strokeWidth": 1.2, "color": "#666666"},
"encoding": {
"x": {"field": "e", "type": "quantitative", "scale": {"domain": [0.69, 0.951], "range": [0, 280], "nice": false, "zero": false}, "axis": null},
"y": {"field": "v", "type": "quantitative", "scale": {"domain": [-0.09, 3.507], "range": [280, 0], "nice": false, "zero": false}, "axis": null},
"y2": {"field": "v2"}
}
},
{
"data": {"values": [{"e": 0.8606, "e2": 0.8941, "v": 2.916}]},
"mark": {"type": "rule", "strokeWidth": 2, "color": "#800a7e"},
"encoding": {
"x": {"field": "e", "type": "quantitative", "scale": {"domain": [0.69, 0.951], "range": [0, 280], "nice": false, "zero": false}, "axis": null},
"x2": {"field": "e2"},
"y": {"field": "v", "type": "quantitative", "scale": {"domain": [-0.09, 3.507], "range": [280, 0], "nice": false, "zero": false}, "axis": null}
}
},
{
"data": {"values": [{"e": 0.8969, "v": 2.916, "t": "300K"}]},
"mark": {"type": "text", "align": "left", "baseline": "middle", "fontSize": 15, "color": "#222222"},
"encoding": {
"x": {"field": "e", "type": "quantitative", "scale": {"domain": [0.69, 0.951], "range": [0, 280], "nice": false, "zero": false}, "axis": null},
"y": {"field": "v", "type": "quantitative", "scale": {"domain": [-0.09, 3.507], "range": [280, 0], "nice": false, "zero": false}, "axis": null},
"text": {"field": "t"}
}
}
],
"resolve": {"axis": {"x": "independent", "y": "independent"}}
}
],
"resolve": {"scale": {"x": "independent", "y": "independent"}, "axis": {"x": "independent", "y": "independent"}}
}
